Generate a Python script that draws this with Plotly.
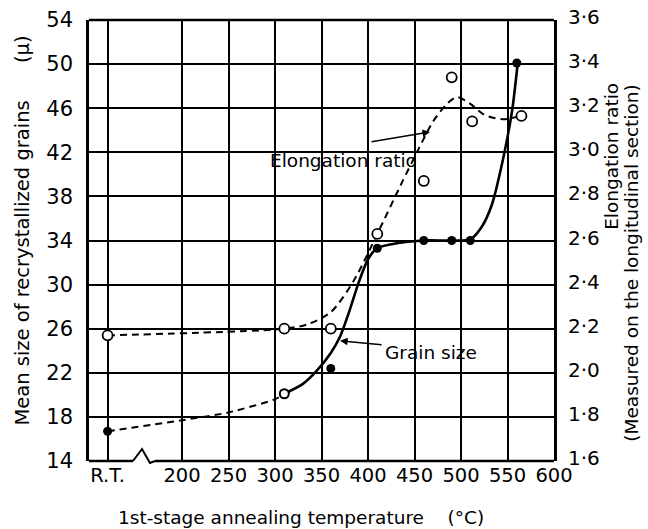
import plotly.graph_objects as go

# ---- data ----
x_ticks = [120, 200, 250, 300, 350, 400, 450, 500, 550, 600]
x_ticktext = ["R.T.", "200", "250", "300", "350", "400", "450", "500", "550", "600"]
left_ticks = [14, 18, 22, 26, 30, 34, 38, 42, 46, 50, 54]
right_ticks = [1.6, 1.8, 2.0, 2.2, 2.4, 2.6, 2.8, 3.0, 3.2, 3.4, 3.6]
right_ticktext = ["1·6", "1·8", "2·0", "2·2", "2·4", "2·6", "2·8", "3·0", "3·2", "3·4", "3·6"]

# grain size (filled dots, left axis)
grain_temp = [120, 360, 410, 460, 490, 510, 560]
grain_size = [16.7, 22.4, 33.3, 34.0, 34.0, 34.0, 50.1]
grain_open_temp = [310]
grain_open_size = [20.1]

# grain size fitted curve (dashed then solid)
grain_dash_t = [120, 200, 250, 300, 310]
grain_dash_v = [16.7, 17.7, 18.4, 19.6, 20.1]
grain_solid_t = [310, 330, 345, 360, 370, 380, 390, 400, 410, 435, 460, 490, 510, 522, 533, 545, 555, 561]
grain_solid_v = [20.1, 21.0, 22.2, 23.8, 25.3, 27.6, 30.2, 32.3, 33.3, 33.8, 34.0, 34.0, 34.1, 35.2, 37.2, 41.3, 45.8, 50.1]

# elongation ratio (open circles, right axis)
elong_temp = [120, 310, 360, 410, 460, 490, 512, 565]
elong_ratio = [2.17, 2.2, 2.2, 2.63, 2.87, 3.34, 3.14, 3.165]

# elongation fitted curve (dashed)
elong_curve_t = [120, 310, 335, 360, 385, 410, 435, 455, 470, 485, 496, 510, 525, 545, 565]
elong_curve_v = [2.17, 2.2, 2.22, 2.275, 2.42, 2.63, 2.85, 3.02, 3.14, 3.22, 3.25, 3.22, 3.17, 3.15, 3.165]

FONT = "DejaVu Sans"
fig = go.Figure()

fig.add_trace(go.Scatter(x=elong_curve_t, y=elong_curve_v, yaxis="y2", mode="lines",
                         line=dict(color="black", width=2, dash="7px,5px", shape="spline", smoothing=0.8),
                         hoverinfo="skip", showlegend=False))
fig.add_trace(go.Scatter(x=grain_dash_t, y=grain_dash_v, mode="lines",
                         line=dict(color="black", width=2, dash="7px,5px", shape="spline", smoothing=0.6),
                         hoverinfo="skip", showlegend=False))
fig.add_trace(go.Scatter(x=grain_solid_t, y=grain_solid_v, mode="lines",
                         line=dict(color="black", width=2.6, shape="spline", smoothing=0.7),
                         hoverinfo="skip", showlegend=False))
fig.add_trace(go.Scatter(x=grain_temp, y=grain_size, mode="markers",
                         marker=dict(color="black", size=9), showlegend=False))
fig.add_trace(go.Scatter(x=grain_open_temp, y=grain_open_size, mode="markers",
                         marker=dict(color="white", size=9, line=dict(color="black", width=2)),
                         showlegend=False))
fig.add_trace(go.Scatter(x=elong_temp, y=elong_ratio, yaxis="y2", mode="markers",
                         marker=dict(color="white", size=10, line=dict(color="black", width=1.8)),
                         showlegend=False))

fig.update_layout(
    width=648, height=529,
    margin=dict(l=89, r=94, t=20, b=68, autoexpand=False),
    paper_bgcolor="white", plot_bgcolor="white",
    font=dict(family=FONT, color="black", size=19),
    xaxis=dict(range=[100, 600], tickvals=x_ticks, ticktext=x_ticktext, automargin=False,
               showgrid=True, gridcolor="black", gridwidth=1.6,
               showline=False, ticks="", zeroline=False, tickfont=dict(size=19.5)),
    yaxis=dict(range=[14, 54], tickvals=left_ticks, automargin=False,
               showgrid=True, gridcolor="black", gridwidth=1.6,
               showline=True, linecolor="black", linewidth=2.6, mirror=True,
               ticks="", zeroline=False, tickfont=dict(size=21), ticklabelstandoff=9),
    yaxis2=dict(range=[1.6, 3.6], tickvals=right_ticks, ticktext=right_ticktext, automargin=False,
                overlaying="y", side="right", showgrid=False, zeroline=False,
                ticks="", tickfont=dict(size=20), ticklabelstandoff=13, ticklabelshift=-3),
)

# axis titles
fig.add_annotation(text="Mean size of recrystallized grains      (μ)", xref="paper", yref="paper",
                   x=-0.145, y=0.5215, xanchor="center", yanchor="middle", textangle=-90,
                   showarrow=False, font=dict(size=19.5))
fig.add_annotation(text="Elongation ratio", xref="paper", yref="paper",
                   x=1.125, y=0.69, xanchor="center", yanchor="middle", textangle=-90,
                   showarrow=False, font=dict(size=18.5))
fig.add_annotation(text="(Measured on the longitudinal section)", xref="paper", yref="paper",
                   x=1.166, y=0.45, xanchor="center", yanchor="middle", textangle=-90,
                   showarrow=False, font=dict(size=18.5))
fig.add_annotation(text="1st-stage annealing temperature    (°C)", xref="paper", yref="paper",
                   x=0.455, y=-0.129, xanchor="center", yanchor="middle",
                   showarrow=False, font=dict(size=18.5))

# curve labels
fig.add_annotation(text="Elongation ratio", x=373.7, y=41.3, xref="x", yref="y",
                   showarrow=False, font=dict(size=18.5))
fig.add_annotation(text="Grain size", x=467.7, y=23.8, xref="x", yref="y",
                   showarrow=False, font=dict(size=18.5))
fig.add_annotation(text="", x=466.7, y=3.092, xref="x", yref="y2", ax=-60, ay=10,
                   showarrow=True, arrowhead=2, arrowsize=1, arrowwidth=1.5, arrowcolor="black")
fig.add_annotation(text="", x=370, y=24.9, xref="x", yref="y", ax=43, ay=4,
                   showarrow=True, arrowhead=2, arrowsize=1, arrowwidth=1.5, arrowcolor="black")

# frame top and bottom (bottom broken by the axis-break symbol)
frame = dict(color="black", width=2.6)
fig.add_shape(type="line", xref="paper", yref="paper", x0=0, x1=1, y0=1, y1=1, line=frame)
fig.add_shape(type="line", xref="paper", yref="paper", x0=0, x1=0.0946, y0=0, y1=0, line=frame)
fig.add_shape(type="line", xref="paper", yref="paper", x0=0.142, x1=1, y0=0, y1=0, line=frame)
fig.add_shape(type="path", xref="paper", yref="paper", xsizemode="pixel", ysizemode="pixel",
              xanchor=0.0946, yanchor=0,
              path="M 0,0 L 9,12 L 17,-2 L 22,0",
              line=dict(color="black", width=2))

fig.write_html("out.html", post_script="document.body.style.margin='0';",
               config={"displayModeBar": False})
